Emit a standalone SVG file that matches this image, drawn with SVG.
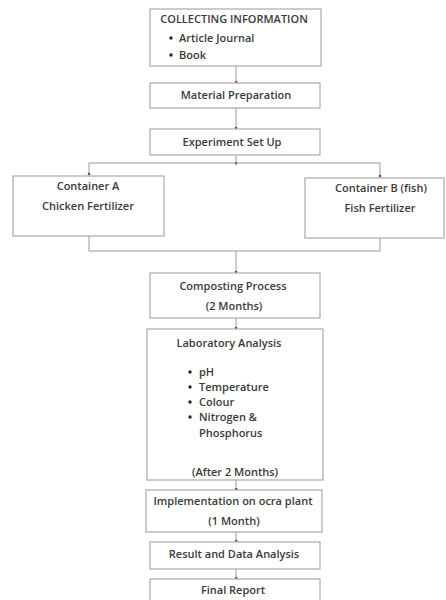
<svg xmlns="http://www.w3.org/2000/svg" width="446" height="600" viewBox="0 0 446 600">
<defs>
<marker id="dot" viewBox="0 0 4 4" refX="2" refY="2" markerWidth="3" markerHeight="3" markerUnits="userSpaceOnUse"><circle cx="2" cy="2" r="2" fill="#555"/></marker>
<style>
.box{fill:#fff;stroke:#aaa;stroke-width:1.2}
.t{font-family:"Open Sans","Liberation Sans",sans-serif;font-size:11px;font-weight:600;fill:#3a3a3a}
.c{text-anchor:middle}
.ln{fill:none;stroke:#999;stroke-width:1}
</style>
</defs>
<rect width="446" height="600" fill="#fff"/>
<g id="connectors">
<path class="ln" d="M236 66V82" marker-end="url(#dot)"/>
<path class="ln" d="M236 108V128" marker-end="url(#dot)"/>
<path class="ln" d="M236 155V163" marker-end="url(#dot)"/>
<path class="ln" d="M89 175V163H380V177"/>
<circle cx="89" cy="174" r="1.3" fill="#555"/>
<circle cx="380" cy="176" r="1.3" fill="#555"/>
<path class="ln" d="M89 236V251H380V238M236 251V272" marker-end="url(#dot)"/>
<path class="ln" d="M236 318V328" marker-end="url(#dot)"/>
<path class="ln" d="M236 480V489" marker-end="url(#dot)"/>
<path class="ln" d="M236 532V541" marker-end="url(#dot)"/>
<path class="ln" d="M236 569V578" marker-end="url(#dot)"/>
</g>
<g id="collecting">
<rect class="box" x="150" y="9" width="171" height="57"/>
<text class="t c" x="234" y="23">COLLECTING INFORMATION</text>
<circle cx="171" cy="38" r="1.7" fill="#222"/>
<text class="t" x="179" y="42">Article Journal</text>
<circle cx="171" cy="55" r="1.7" fill="#222"/>
<text class="t" x="179" y="59">Book</text>
</g>
<g id="material">
<rect class="box" x="150" y="83" width="170" height="25"/>
<text class="t c" x="236" y="99">Material Preparation</text>
</g>
<g id="experiment">
<rect class="box" x="150" y="129" width="170" height="26"/>
<text class="t c" x="232" y="146">Experiment Set Up</text>
</g>
<g id="containerA">
<rect class="box" x="13" y="176" width="151" height="60"/>
<text class="t c" x="88" y="190">Container A</text>
<text class="t c" x="88" y="210">Chicken Fertilizer</text>
</g>
<g id="containerB">
<rect class="box" x="305" y="178" width="139" height="60"/>
<text class="t c" x="381" y="192">Container B (fish)</text>
<text class="t c" x="380" y="212">Fish Fertilizer</text>
</g>
<g id="composting">
<rect class="box" x="150" y="273" width="170" height="45"/>
<text class="t c" x="233" y="290">Composting Process</text>
<text class="t c" x="234" y="310">(2 Months)</text>
</g>
<g id="laboratory">
<rect class="box" x="147" y="329" width="176" height="151"/>
<text class="t c" x="229" y="347">Laboratory Analysis</text>
<circle cx="190" cy="372" r="1.7" fill="#222"/>
<text class="t" x="199" y="376">pH</text>
<circle cx="190" cy="387" r="1.7" fill="#222"/>
<text class="t" x="199" y="391">Temperature</text>
<circle cx="190" cy="402" r="1.7" fill="#222"/>
<text class="t" x="199" y="406">Colour</text>
<circle cx="190" cy="417" r="1.7" fill="#222"/>
<text class="t" x="199" y="421">Nitrogen &amp;</text>
<text class="t" x="199" y="437">Phosphorus</text>
<text class="t c" x="235" y="476">(After 2 Months)</text>
</g>
<g id="implementation">
<rect class="box" x="146" y="490" width="176" height="42"/>
<text class="t c" x="233" y="505">Implementation on ocra plant</text>
<text class="t c" x="234" y="525">(1 Month)</text>
</g>
<g id="result">
<rect class="box" x="150" y="542" width="170" height="27"/>
<text class="t c" x="234" y="558">Result and Data Analysis</text>
</g>
<g id="final">
<rect class="box" x="150" y="579" width="170" height="30"/>
<text class="t c" x="233" y="594">Final Report</text>
</g>
</svg>
